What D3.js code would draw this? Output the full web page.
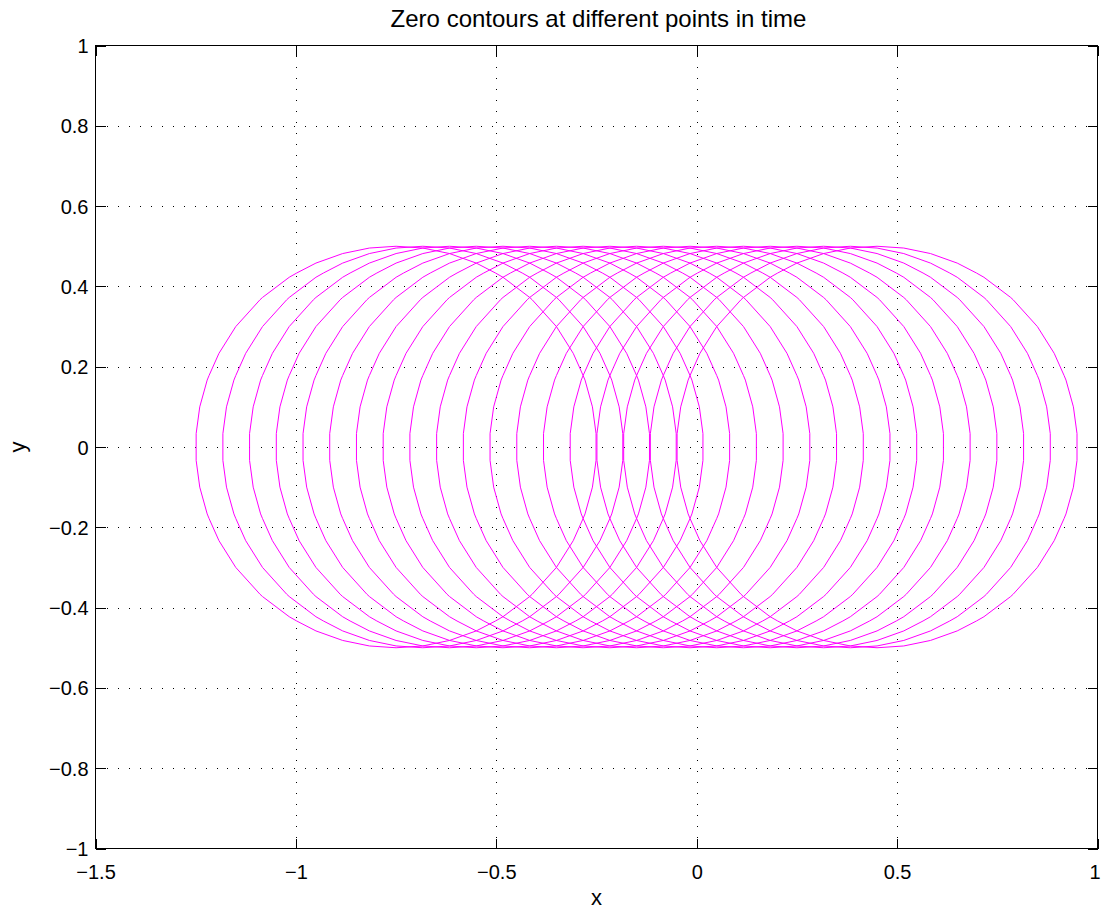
<!DOCTYPE html>
<html><head><meta charset="utf-8">
<script src="https://cdn.jsdelivr.net/npm/d3@7"></script>
<style>
body{margin:0;background:#fff}
svg{display:block}
text{font-family:"Liberation Sans",Arial,Helvetica,sans-serif;fill:#000}
</style></head>
<body><svg id="chart" width="1102" height="909"></svg>
<script>
// ---- data ----
const titleText = "Zero contours at different points in time";
const xLabel = "x";
const yLabel = "y";
const xTicks = [-1.5, -1, -0.5, 0, 0.5, 1];
const yTicks = [-1, -0.8, -0.6, -0.4, -0.2, 0, 0.2, 0.4, 0.6, 0.8, 1];
// centres of the zero contours (one per time step)
const centers = [-0.75, -0.6833, -0.6167, -0.55, -0.4833, -0.4167, -0.35, -0.2833, -0.2167,
                 -0.15, -0.0833, -0.0167, 0.05, 0.1167, 0.1833, 0.25, 0.3167, 0.3833, 0.45];
const radius = 0.5;
const gridStep = 1 / 15; // level-set grid spacing

// ---- layout ----
const svg = d3.select("#chart");
const L = 95.5, R = 1097.5, T = 45.5, B = 848.5;
const x = d3.scaleLinear().domain([-1.5, 1]).range([L, R]);
const y = d3.scaleLinear().domain([-1, 1]).range([B, T]);
const fmt = v => (v < 0 ? "\u2212" : "") + String(Math.abs(v));

// grid
const g = svg.append("g");
g.selectAll(".gx").data(xTicks.filter(v => v > -1.5 && v < 1)).enter().append("line")
  .attr("x1", d => Math.round(x(d)) + 0.5).attr("x2", d => Math.round(x(d)) + 0.5)
  .attr("y1", B).attr("y2", T)
  .attr("stroke", "#000").attr("stroke-width", 1).attr("stroke-dasharray", "1,10")
  .attr("shape-rendering", "crispEdges");
g.selectAll(".gy").data(yTicks.filter(v => v > -1 && v < 1)).enter().append("line")
  .attr("y1", d => Math.round(y(d)) + 0.5).attr("y2", d => Math.round(y(d)) + 0.5)
  .attr("x1", L).attr("x2", R)
  .attr("stroke", "#000").attr("stroke-width", 1).attr("stroke-dasharray", "1,10")
  .attr("shape-rendering", "crispEdges");

// contours
const nx = 38, ny = 30;
const gx0 = centers[0] - 11 * gridStep;
const gy0 = -1 + gridStep / 2;
const proj = d3.geoTransform({
  point(u, v) {
    this.stream.point(x(gx0 + (u - 0.5) * gridStep), y(gy0 + (v - 0.5) * gridStep));
  }
});
const path = d3.geoPath(proj);
const cg = svg.append("g");
centers.forEach(c => {
  const vals = new Array(nx * ny);
  for (let j = 0; j < ny; j++) for (let i = 0; i < nx; i++) {
    vals[j * nx + i] = radius - Math.hypot(gx0 + i * gridStep - c, gy0 + j * gridStep);
  }
  const cont = d3.contours().size([nx, ny]).thresholds([0])(vals);
  cg.append("path").datum(cont[0]).attr("d", path)
    .attr("fill", "none").attr("stroke", "#ff00ff").attr("stroke-width", 1);
});

// axes box
svg.append("rect").attr("x", L).attr("y", T).attr("width", R - L).attr("height", B - T)
  .attr("fill", "none").attr("stroke", "#000").attr("stroke-width", 1)
  .attr("shape-rendering", "crispEdges");

// ticks (inward, on all four sides)
const tk = 10;
const xa = d3.axisBottom(x).tickValues(xTicks).tickSize(-tk).tickFormat(fmt).tickPadding(20);
const xAxis = svg.append("g").attr("transform", `translate(0,${B})`).call(xa);
xAxis.select(".domain").remove();
xAxis.selectAll("text").attr("font-size", 20).attr("font-family", "Liberation Sans, Arial, sans-serif")
  .attr("dy", null).attr("y", 30)
  .attr("x", d => d === 1 ? -3 : 0);
const xaTop = d3.axisTop(x).tickValues(xTicks).tickSize(-tk).tickFormat("");
const xAxisT = svg.append("g").attr("transform", `translate(0,${T})`).call(xaTop);
xAxisT.select(".domain").remove();

const ya = d3.axisLeft(y).tickValues(yTicks).tickSize(-tk).tickFormat(fmt).tickPadding(7);
const yAxis = svg.append("g").attr("transform", `translate(${L},0)`).call(ya);
yAxis.select(".domain").remove();
yAxis.selectAll("text").attr("font-size", 20).attr("font-family", "Liberation Sans, Arial, sans-serif").attr("dy", "0.35em").attr("x", -7);
const yaR = d3.axisRight(y).tickValues(yTicks).tickSize(-tk).tickFormat("");
const yAxisR = svg.append("g").attr("transform", `translate(${R},0)`).call(yaR);
yAxisR.select(".domain").remove();
svg.selectAll(".tick line").attr("stroke", "#000").attr("shape-rendering", "crispEdges");

// labels
svg.append("text").attr("x", 598.5).attr("y", 27).attr("text-anchor", "middle")
  .attr("font-size", 24).text(titleText);
svg.append("text").attr("x", 596.5).attr("y", 905).attr("text-anchor", "middle")
  .attr("font-size", 22).text(xLabel);
svg.append("text").attr("transform", `translate(25,${y(0)}) rotate(-90)`).attr("text-anchor", "middle")
  .attr("font-size", 22).text(yLabel);
</script></body></html>
